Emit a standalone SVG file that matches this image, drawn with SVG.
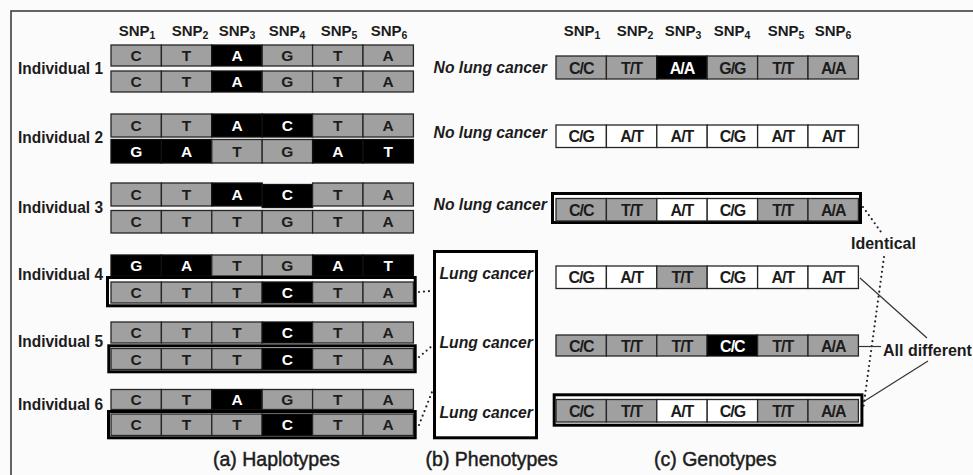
<svg xmlns="http://www.w3.org/2000/svg" width="973" height="475" viewBox="0 0 973 475">
<style>
.bg{fill:#fbfbfb}
.frame{fill:none;stroke:#333;stroke-width:1.5}
.g{fill:#a0a0a0;stroke:#262626;stroke-width:1.3}
.k{fill:#000;stroke:#111;stroke-width:1.3}
.w{fill:#fff;stroke:#262626;stroke-width:1.3}
.box{fill:#fff;stroke:#000;stroke-width:3}
.pbox{fill:#fff;stroke:#000;stroke-width:3}
.c{font:bold 15.5px "Liberation Sans",Arial,sans-serif;text-anchor:middle;fill:#1c1c1c}
.gt{font:bold 16px "Liberation Sans",Arial,sans-serif;text-anchor:middle;fill:#1c1c1c;letter-spacing:-1px}
.wt{fill:#fff}
.hd{font:bold 15px "Liberation Sans",Arial,sans-serif;text-anchor:middle;fill:#1c1c1c}
.ind{font:bold 16.5px "Liberation Sans",Arial,sans-serif;fill:#1c1c1c}
.ph{font:italic bold 15.7px "Liberation Sans",Arial,sans-serif;fill:#1c1c1c}
.cap{font:19.5px "Liberation Sans",Arial,sans-serif;fill:#1c1c1c;stroke:#1c1c1c;stroke-width:0.45}
.note{font:bold 16px "Liberation Sans",Arial,sans-serif;fill:#1c1c1c}
.dot{fill:none;stroke:#222;stroke-width:2.2;stroke-dasharray:0 5;stroke-linecap:round}
.ln{fill:none;stroke:#333;stroke-width:1.2}
</style>

<rect class="bg" x="0" y="0" width="973" height="475"/>
<path class="frame" d="M11,475 V11 H973"/>

<!-- SNP column headers -->
<g id="snp-headers-haplo">
<text class="hd" x="137" y="36">SNP<tspan font-size="10.5" dy="3">1</tspan></text>
<text class="hd" x="190" y="36">SNP<tspan font-size="10.5" dy="3">2</tspan></text>
<text class="hd" x="237" y="36">SNP<tspan font-size="10.5" dy="3">3</tspan></text>
<text class="hd" x="287" y="36">SNP<tspan font-size="10.5" dy="3">4</tspan></text>
<text class="hd" x="339" y="36">SNP<tspan font-size="10.5" dy="3">5</tspan></text>
<text class="hd" x="389" y="36">SNP<tspan font-size="10.5" dy="3">6</tspan></text>
</g>
<g id="snp-headers-geno">
<text class="hd" x="582" y="36">SNP<tspan font-size="10.5" dy="3">1</tspan></text>
<text class="hd" x="635" y="36">SNP<tspan font-size="10.5" dy="3">2</tspan></text>
<text class="hd" x="683" y="36">SNP<tspan font-size="10.5" dy="3">3</tspan></text>
<text class="hd" x="732" y="36">SNP<tspan font-size="10.5" dy="3">4</tspan></text>
<text class="hd" x="786" y="36">SNP<tspan font-size="10.5" dy="3">5</tspan></text>
<text class="hd" x="833" y="36">SNP<tspan font-size="10.5" dy="3">6</tspan></text>
</g>

<!-- Individual 1 -->
<g id="ind1">
<text class="ind" x="18" y="74" textLength="85" lengthAdjust="spacingAndGlyphs">Individual 1</text>
<g transform="translate(111,45)">
<rect class="g" x="0" width="50.4" height="21"/><rect class="g" x="50.4" width="50.4" height="21"/><rect class="k" x="100.8" width="50.4" height="21"/><rect class="g" x="151.2" width="50.4" height="21"/><rect class="g" x="201.6" width="50.4" height="21"/><rect class="g" x="252" width="50.4" height="21"/>
<text class="c" x="25.2" y="16">C</text><text class="c" x="75.6" y="16">T</text><text class="c wt" x="126" y="16">A</text><text class="c" x="176.4" y="16">G</text><text class="c" x="226.8" y="16">T</text><text class="c" x="277.2" y="16">A</text>
</g>
<g transform="translate(111,71)">
<rect class="g" x="0" width="50.4" height="21"/><rect class="g" x="50.4" width="50.4" height="21"/><rect class="k" x="100.8" width="50.4" height="21"/><rect class="g" x="151.2" width="50.4" height="21"/><rect class="g" x="201.6" width="50.4" height="21"/><rect class="g" x="252" width="50.4" height="21"/>
<text class="c" x="25.2" y="16">C</text><text class="c" x="75.6" y="16">T</text><text class="c wt" x="126" y="16">A</text><text class="c" x="176.4" y="16">G</text><text class="c" x="226.8" y="16">T</text><text class="c" x="277.2" y="16">A</text>
</g>
</g>

<!-- Individual 2 -->
<g id="ind2">
<text class="ind" x="18" y="143" textLength="85" lengthAdjust="spacingAndGlyphs">Individual 2</text>
<g transform="translate(111,114)">
<rect class="g" x="0" width="50.4" height="23"/><rect class="g" x="50.4" width="50.4" height="23"/><rect class="k" x="100.8" width="50.4" height="23"/><rect class="k" x="151.2" width="50.4" height="23"/><rect class="g" x="201.6" width="50.4" height="23"/><rect class="g" x="252" width="50.4" height="23"/>
<text class="c" x="25.2" y="17">C</text><text class="c" x="75.6" y="17">T</text><text class="c wt" x="126" y="17">A</text><text class="c wt" x="176.4" y="17">C</text><text class="c" x="226.8" y="17">T</text><text class="c" x="277.2" y="17">A</text>
</g>
<g transform="translate(111,139.5)">
<rect class="k" x="0" width="50.4" height="23.5"/><rect class="k" x="50.4" width="50.4" height="23.5"/><rect class="g" x="100.8" width="50.4" height="23.5"/><rect class="g" x="151.2" width="50.4" height="23.5"/><rect class="k" x="201.6" width="50.4" height="23.5"/><rect class="k" x="252" width="50.4" height="23.5"/>
<text class="c wt" x="25.2" y="17">G</text><text class="c wt" x="75.6" y="17">A</text><text class="c" x="126" y="17">T</text><text class="c" x="176.4" y="17">G</text><text class="c wt" x="226.8" y="17">A</text><text class="c wt" x="277.2" y="17">T</text>
</g>
</g>

<!-- Individual 3 -->
<g id="ind3">
<text class="ind" x="18" y="213" textLength="85" lengthAdjust="spacingAndGlyphs">Individual 3</text>
<g transform="translate(111,183)">
<rect class="g" x="0" width="50.4" height="23"/><rect class="g" x="50.4" width="50.4" height="23"/><rect class="k" x="100.8" width="50.4" height="23"/><rect class="k" x="151.2" y="1.5" width="50.4" height="23"/><rect class="g" x="201.6" width="50.4" height="23"/><rect class="g" x="252" width="50.4" height="23"/>
<text class="c" x="25.2" y="17">C</text><text class="c" x="75.6" y="17">T</text><text class="c wt" x="126" y="17">A</text><text class="c wt" x="176.4" y="17">C</text><text class="c" x="226.8" y="17">T</text><text class="c" x="277.2" y="17">A</text>
</g>
<g transform="translate(111,210.5)">
<rect class="g" x="0" width="50.4" height="22.5"/><rect class="g" x="50.4" width="50.4" height="22.5"/><rect class="g" x="100.8" width="50.4" height="22.5"/><rect class="g" x="151.2" width="50.4" height="22.5"/><rect class="g" x="201.6" width="50.4" height="22.5"/><rect class="g" x="252" width="50.4" height="22.5"/>
<text class="c" x="25.2" y="16.5">C</text><text class="c" x="75.6" y="16.5">T</text><text class="c" x="126" y="16.5">T</text><text class="c" x="176.4" y="16.5">G</text><text class="c" x="226.8" y="16.5">T</text><text class="c" x="277.2" y="16.5">A</text>
</g>
</g>

<!-- Individual 4 -->
<g id="ind4">
<text class="ind" x="18" y="280" textLength="85" lengthAdjust="spacingAndGlyphs">Individual 4</text>
<g transform="translate(111,255)">
<rect class="k" x="0" width="50.4" height="21"/><rect class="k" x="50.4" width="50.4" height="21"/><rect class="g" x="100.8" width="50.4" height="21"/><rect class="g" x="151.2" width="50.4" height="21"/><rect class="k" x="201.6" width="50.4" height="21"/><rect class="k" x="252" width="50.4" height="21"/>
<text class="c wt" x="25.2" y="16">G</text><text class="c wt" x="75.6" y="16">A</text><text class="c" x="126" y="16">T</text><text class="c" x="176.4" y="16">G</text><text class="c wt" x="226.8" y="16">A</text><text class="c wt" x="277.2" y="16">T</text>
</g>
<rect class="box" x="107.5" y="277.5" width="307.7" height="28.3"/>
<g transform="translate(111,282)">
<rect class="g" x="0" width="50.4" height="21"/><rect class="g" x="50.4" width="50.4" height="21"/><rect class="g" x="100.8" width="50.4" height="21"/><rect class="k" x="151.2" width="50.4" height="21"/><rect class="g" x="201.6" width="50.4" height="21"/><rect class="g" x="252" width="50.4" height="21"/>
<text class="c" x="25.2" y="16">C</text><text class="c" x="75.6" y="16">T</text><text class="c" x="126" y="16">T</text><text class="c wt" x="176.4" y="16">C</text><text class="c" x="226.8" y="16">T</text><text class="c" x="277.2" y="16">A</text>
</g>
</g>

<!-- Individual 5 -->
<g id="ind5">
<text class="ind" x="18" y="347" textLength="85" lengthAdjust="spacingAndGlyphs">Individual 5</text>
<g transform="translate(111,322)">
<rect class="g" x="0" width="50.4" height="21"/><rect class="g" x="50.4" width="50.4" height="21"/><rect class="g" x="100.8" width="50.4" height="21"/><rect class="k" x="151.2" width="50.4" height="21"/><rect class="g" x="201.6" width="50.4" height="21"/><rect class="g" x="252" width="50.4" height="21"/>
<text class="c" x="25.2" y="16">C</text><text class="c" x="75.6" y="16">T</text><text class="c" x="126" y="16">T</text><text class="c wt" x="176.4" y="16">C</text><text class="c" x="226.8" y="16">T</text><text class="c" x="277.2" y="16">A</text>
</g>
<rect class="box" x="108.8" y="345.8" width="306.4" height="26"/>
<g transform="translate(111,348.5)">
<rect class="g" x="0" width="50.4" height="21"/><rect class="g" x="50.4" width="50.4" height="21"/><rect class="g" x="100.8" width="50.4" height="21"/><rect class="k" x="151.2" width="50.4" height="21"/><rect class="g" x="201.6" width="50.4" height="21"/><rect class="g" x="252" width="50.4" height="21"/>
<text class="c" x="25.2" y="16">C</text><text class="c" x="75.6" y="16">T</text><text class="c" x="126" y="16">T</text><text class="c wt" x="176.4" y="16">C</text><text class="c" x="226.8" y="16">T</text><text class="c" x="277.2" y="16">A</text>
</g>
</g>

<!-- Individual 6 -->
<g id="ind6">
<text class="ind" x="18" y="410" textLength="85" lengthAdjust="spacingAndGlyphs">Individual 6</text>
<g transform="translate(111,389.5)">
<rect class="g" x="0" width="50.4" height="20"/><rect class="g" x="50.4" width="50.4" height="20"/><rect class="k" x="100.8" width="50.4" height="20"/><rect class="g" x="151.2" width="50.4" height="20"/><rect class="g" x="201.6" width="50.4" height="20"/><rect class="g" x="252" width="50.4" height="20"/>
<text class="c" x="25.2" y="15.5">C</text><text class="c" x="75.6" y="15.5">T</text><text class="c wt" x="126" y="15.5">A</text><text class="c" x="176.4" y="15.5">G</text><text class="c" x="226.8" y="15.5">T</text><text class="c" x="277.2" y="15.5">A</text>
</g>
<rect class="box" x="108.5" y="411.5" width="306.7" height="26.3"/>
<g transform="translate(111,414)">
<rect class="g" x="0" width="50.4" height="21.5"/><rect class="g" x="50.4" width="50.4" height="21.5"/><rect class="g" x="100.8" width="50.4" height="21.5"/><rect class="k" x="151.2" width="50.4" height="21.5"/><rect class="g" x="201.6" width="50.4" height="21.5"/><rect class="g" x="252" width="50.4" height="21.5"/>
<text class="c" x="25.2" y="16">C</text><text class="c" x="75.6" y="16">T</text><text class="c" x="126" y="16">T</text><text class="c wt" x="176.4" y="16">C</text><text class="c" x="226.8" y="16">T</text><text class="c" x="277.2" y="16">A</text>
</g>
</g>

<!-- Phenotypes -->
<g id="phenotypes">
<text class="ph" x="433.6" y="73">No lung cancer</text>
<text class="ph" x="433.6" y="138">No lung cancer</text>
<text class="ph" x="433.6" y="210">No lung cancer</text>
<rect class="pbox" x="434.5" y="251.5" width="102" height="186.3"/>
<text class="ph" x="439.5" y="279">Lung cancer</text>
<text class="ph" x="439.5" y="348">Lung cancer</text>
<text class="ph" x="439.5" y="418">Lung cancer</text>
</g>

<!-- Genotypes -->
<g id="geno1" transform="translate(556,56)">
<rect class="g" x="0" width="50.4" height="23"/><rect class="g" x="50.4" width="50.4" height="23"/><rect class="k" x="100.8" width="50.4" height="23"/><rect class="g" x="151.2" width="50.4" height="23"/><rect class="g" x="201.6" width="50.4" height="23"/><rect class="g" x="252" width="50.4" height="23"/>
<text class="gt" x="25.2" y="17.5">C/C</text><text class="gt" x="75.6" y="17.5">T/T</text><text class="gt wt" x="126" y="17.5">A/A</text><text class="gt" x="176.4" y="17.5">G/G</text><text class="gt" x="226.8" y="17.5">T/T</text><text class="gt" x="277.2" y="17.5">A/A</text>
</g>
<g id="geno2" transform="translate(556,125)">
<rect class="w" x="0" width="50.4" height="22.5"/><rect class="w" x="50.4" width="50.4" height="22.5"/><rect class="w" x="100.8" width="50.4" height="22.5"/><rect class="w" x="151.2" width="50.4" height="22.5"/><rect class="w" x="201.6" width="50.4" height="22.5"/><rect class="w" x="252" width="50.4" height="22.5"/>
<text class="gt" x="25.2" y="17">C/G</text><text class="gt" x="75.6" y="17">A/T</text><text class="gt" x="126" y="17">A/T</text><text class="gt" x="176.4" y="17">C/G</text><text class="gt" x="226.8" y="17">A/T</text><text class="gt" x="277.2" y="17">A/T</text>
</g>
<g id="geno3">
<rect class="box" x="552.5" y="193.5" width="308" height="29"/>
<g transform="translate(556,198.5)">
<rect class="g" x="0" width="50.4" height="22.5"/><rect class="g" x="50.4" width="50.4" height="22.5"/><rect class="w" x="100.8" width="50.4" height="22.5"/><rect class="w" x="151.2" width="50.4" height="22.5"/><rect class="g" x="201.6" width="50.4" height="22.5"/><rect class="g" x="252" width="50.4" height="22.5"/>
<text class="gt" x="25.2" y="17">C/C</text><text class="gt" x="75.6" y="17">T/T</text><text class="gt" x="126" y="17">A/T</text><text class="gt" x="176.4" y="17">C/G</text><text class="gt" x="226.8" y="17">T/T</text><text class="gt" x="277.2" y="17">A/A</text>
</g>
</g>
<g id="geno4" transform="translate(556,266)">
<rect class="w" x="0" width="50.4" height="22.5"/><rect class="w" x="50.4" width="50.4" height="22.5"/><rect class="g" x="100.8" width="50.4" height="22.5"/><rect class="w" x="151.2" width="50.4" height="22.5"/><rect class="w" x="201.6" width="50.4" height="22.5"/><rect class="w" x="252" width="50.4" height="22.5"/>
<text class="gt" x="25.2" y="17">C/G</text><text class="gt" x="75.6" y="17">A/T</text><text class="gt" x="126" y="17">T/T</text><text class="gt" x="176.4" y="17">C/G</text><text class="gt" x="226.8" y="17">A/T</text><text class="gt" x="277.2" y="17">A/T</text>
</g>
<g id="geno5" transform="translate(556,335)">
<rect class="g" x="0" width="50.4" height="21"/><rect class="g" x="50.4" width="50.4" height="21"/><rect class="g" x="100.8" width="50.4" height="21"/><rect class="k" x="151.2" width="50.4" height="21"/><rect class="g" x="201.6" width="50.4" height="21"/><rect class="g" x="252" width="50.4" height="21"/>
<text class="gt" x="25.2" y="16.5">C/C</text><text class="gt" x="75.6" y="16.5">T/T</text><text class="gt" x="126" y="16.5">T/T</text><text class="gt wt" x="176.4" y="16.5">C/C</text><text class="gt" x="226.8" y="16.5">T/T</text><text class="gt" x="277.2" y="16.5">A/A</text>
</g>
<g id="geno6">
<rect class="box" x="554.2" y="394.8" width="307.7" height="30.4"/>
<g transform="translate(556,399.5)">
<rect class="g" x="0" width="50.4" height="22.5"/><rect class="g" x="50.4" width="50.4" height="22.5"/><rect class="w" x="100.8" width="50.4" height="22.5"/><rect class="w" x="151.2" width="50.4" height="22.5"/><rect class="g" x="201.6" width="50.4" height="22.5"/><rect class="g" x="252" width="50.4" height="22.5"/>
<text class="gt" x="25.2" y="17">C/C</text><text class="gt" x="75.6" y="17">T/T</text><text class="gt" x="126" y="17">A/T</text><text class="gt" x="176.4" y="17">C/G</text><text class="gt" x="226.8" y="17">T/T</text><text class="gt" x="277.2" y="17">A/A</text>
</g>
</g>

<!-- Connectors -->
<g id="connectors">
<path class="dot" d="M419,292 L431,291"/>
<path class="dot" d="M419,357 L432,346"/>
<path class="dot" d="M419,425 L432,392"/>
<path class="dot" d="M863,207 L881,232"/>
<path class="dot" d="M884,257 L863,410"/>
<path class="ln" d="M860,278 L927,338"/>
<path class="ln" d="M858.5,346.5 H881"/>
<path class="ln" d="M863,402 L928,361"/>
</g>

<!-- Annotations and captions -->
<g id="annotations">
<text class="note" x="851" y="249" font-size="15.8">Identical</text>
<text class="note" x="883" y="356">All different</text>
<text class="cap" x="213" y="466">(a) Haplotypes</text>
<text class="cap" x="425.6" y="466">(b) Phenotypes</text>
<text class="cap" x="654" y="466">(c) Genotypes</text>
</g>
</svg>
